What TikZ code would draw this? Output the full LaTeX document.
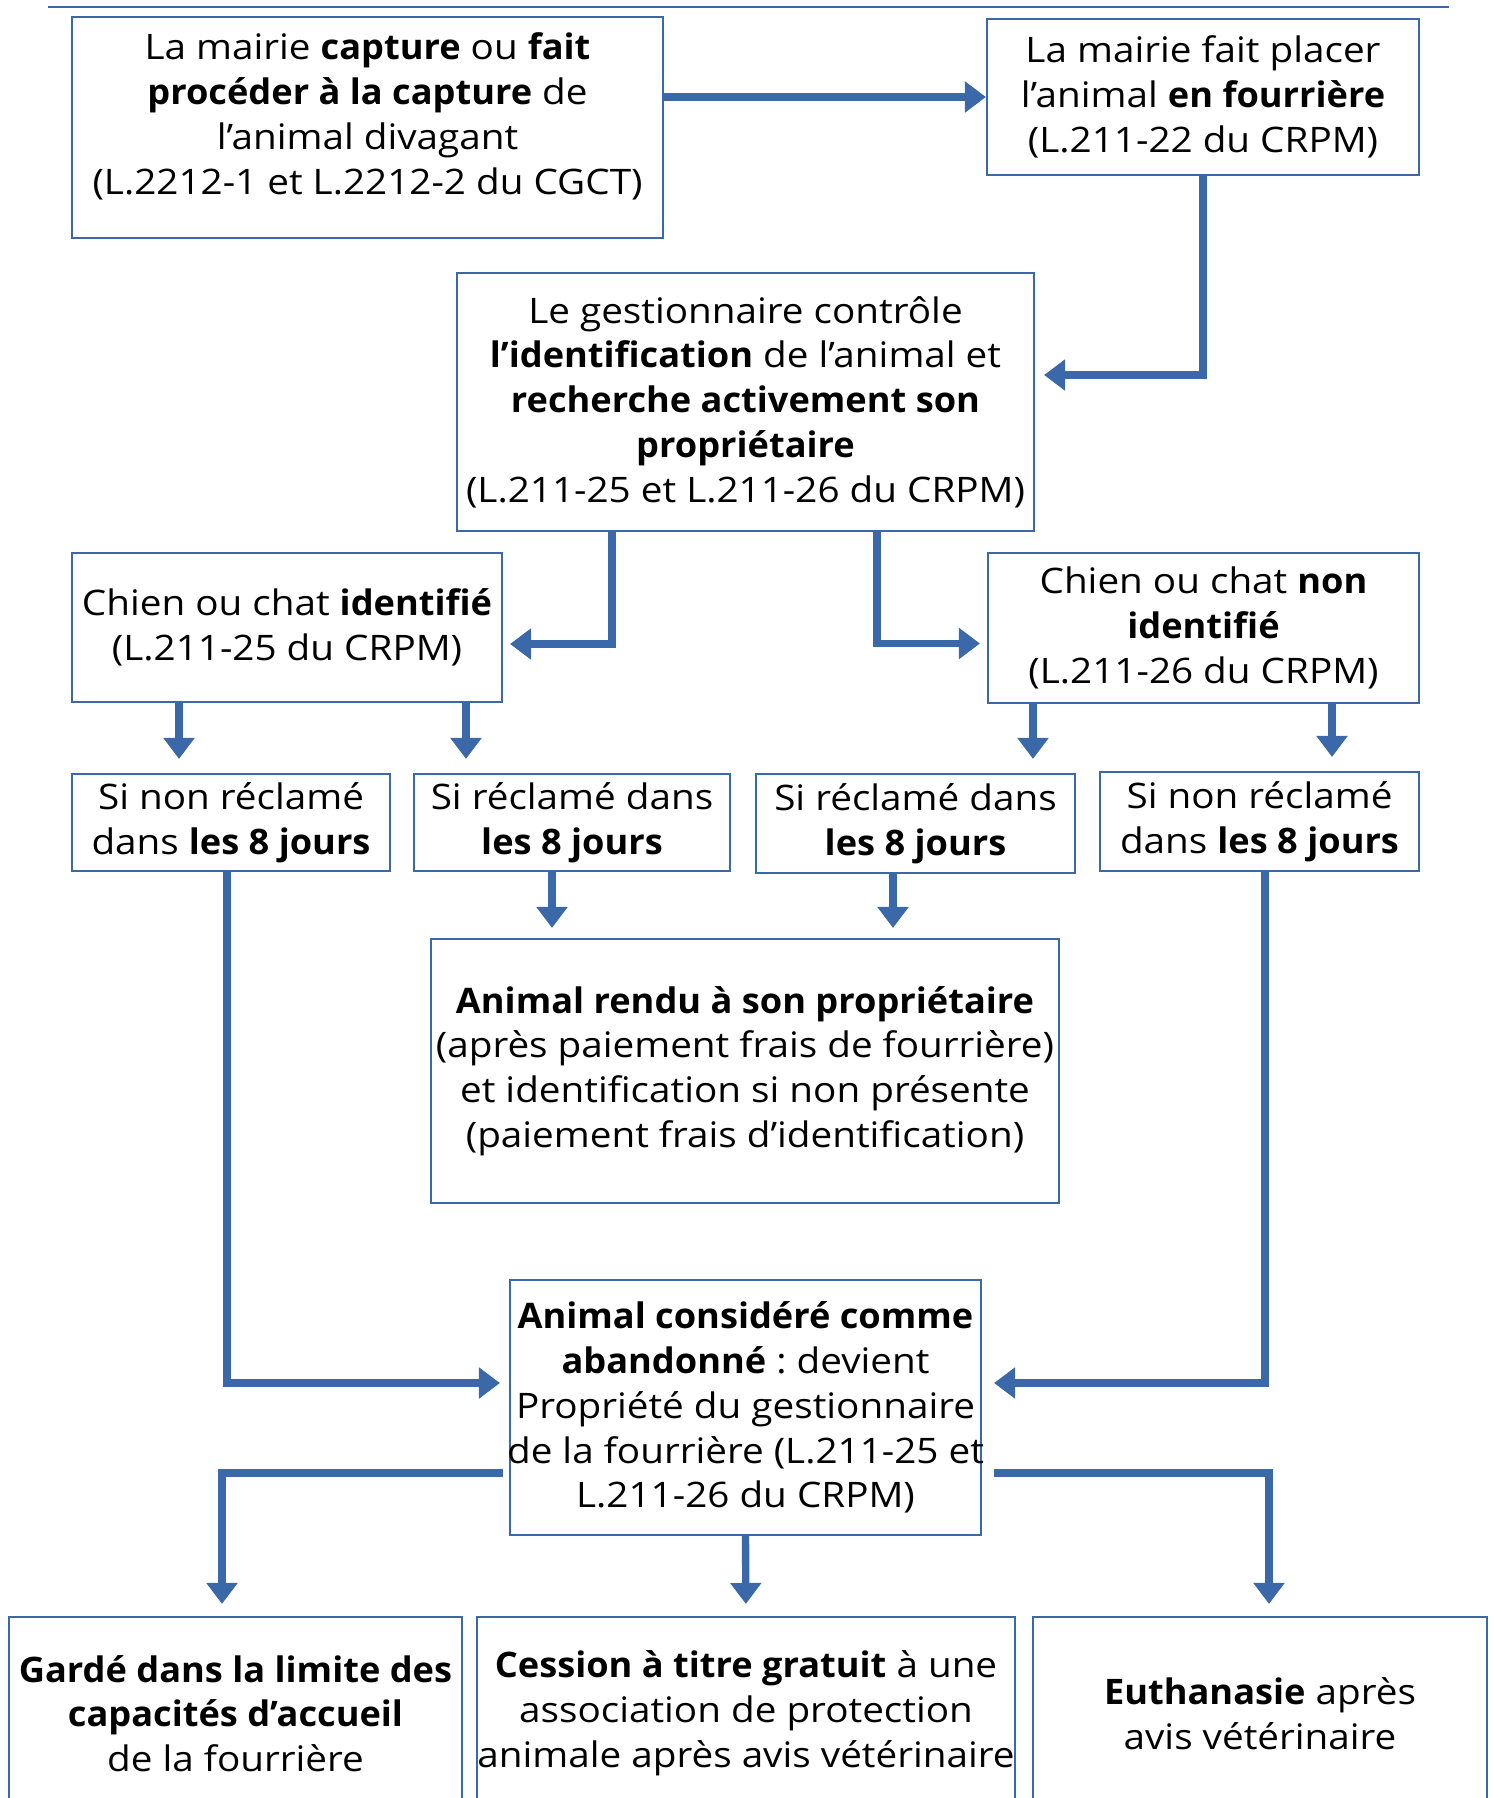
\documentclass[tikz,border=0pt]{standalone}
\usepackage{fontspec}
\setmainfont{Open Sans}[UprightFeatures={FakeStretch=1.1}, BoldFeatures={FakeStretch=1.03}]
\usetikzlibrary{arrows.meta}
\definecolor{fblue}{RGB}{58,104,168}
\frenchspacing

\begin{document}
\begin{tikzpicture}[every node/.style = {draw=fblue, line width=1.2pt, align=center, inner sep=0pt,
        font=\fontsize{20}{25.5}\selectfont},
    arr/.style = {draw=fblue, line width=4.2pt, -{Triangle[length=0.42cm,width=0.6cm]}}]
    \useasboundingbox (0,0) rectangle (29.88,-35.96);
    \draw[fblue, line width=1.5pt] (0.96,-0.14) -- (28.98,-0.14);

    \node (capture) [minimum width=11.82cm, minimum height=4.42cm, text depth=0.55cm] at (7.35,-2.55)
        {La mairie \textbf{capture} ou \textbf{fait}\\ \textbf{procéder à la capture} de\\ l’animal divagant\\ (L.2212-1 et L.2212-2 du CGCT)};
    \node (fourriere) [minimum width=8.64cm, minimum height=3.12cm] at (24.06,-1.94)
        {La mairie fait placer\\ l’animal \textbf{en fourrière}\\ (L.211-22 du CRPM)};
    \node (gestion) [minimum width=11.54cm, minimum height=5.16cm] at (14.91,-8.04)
        {Le gestionnaire contrôle\\ \textbf{l’identification} de l’animal et\\ \textbf{recherche activement son}\\ \textbf{propriétaire}\\ (L.211-25 et L.211-26 du CRPM)};
    \node (ident) [minimum width=8.6cm, minimum height=2.98cm] at (5.74,-12.55)
        {Chien ou chat \textbf{identifié}\\ (L.211-25 du CRPM)};
    \node (nonident) [minimum width=8.62cm, minimum height=3cm] at (24.07,-12.56)
        {Chien ou chat \textbf{non}\\ \textbf{identifié}\\ (L.211-26 du CRPM)};
    \node (nonrecl1) [minimum width=6.36cm, minimum height=1.94cm] at (4.62,-16.45)
        {Si non réclamé\\ dans \textbf{les 8 jours}};
    \node (recl1) [minimum width=6.32cm, minimum height=1.94cm] at (11.44,-16.45)
        {Si réclamé dans\\ \textbf{les 8 jours}};
    \node (recl2) [minimum width=6.38cm, minimum height=1.98cm] at (18.31,-16.47)
        {Si réclamé dans\\ \textbf{les 8 jours}};
    \node (nonrecl2) [minimum width=6.38cm, minimum height=1.98cm] at (25.19,-16.43)
        {Si non réclamé\\ dans \textbf{les 8 jours}};
    \node (rendu) [minimum width=12.56cm, minimum height=5.28cm] at (14.9,-21.42)
        {\textbf{Animal rendu à son propriétaire}\\ (après paiement frais de fourrière)\\ et identification si non présente\\ (paiement frais d’identification)};
    \node (abandon) [minimum width=9.42cm, minimum height=5.1cm] at (14.91,-28.15)
        {\makebox[9.3cm]{\textbf{Animal considéré comme}}\\ \textbf{abandonné} : devient\\ Propriété du gestionnaire\\ \makebox[9.3cm]{de la fourrière (L.211-25 et}\\ L.211-26 du CRPM)};
    \node (garde) [minimum width=9.06cm, minimum height=3.86cm] at (4.71,-34.27)
        {\textbf{Gardé dans la limite des}\\ \textbf{capacités d’accueil}\\ de la fourrière};
    \node (cession) [minimum width=10.76cm, minimum height=3.86cm] at (14.92,-34.27)
        {\textbf{Cession à titre gratuit} à une\\ association de protection\\ animale après avis vétérinaire};
    \node (euthan) [minimum width=9.08cm, minimum height=3.86cm] at (25.2,-34.27)
        {\textbf{Euthanasie} après\\ avis vétérinaire};

    % connecteurs
    \draw[arr] (capture.east |- fourriere.west) -- (fourriere.west);
    \draw[arr, shorten >=0.18cm] (fourriere.south) |- ([yshift=0.54cm]gestion.east);
    \draw[arr, shorten >=0.14cm] ([xshift=-2.67cm]gestion.south) |- ([yshift=-0.33cm]ident.east);
    \draw[arr, shorten >=0.14cm] ([xshift=2.63cm]gestion.south) |- ([yshift=-0.31cm]nonident.west);
    \draw[arr, shorten >=0.28cm] ([xshift=-2.16cm]ident.south) -- ([xshift=-2.16cm]ident.south |- nonrecl1.north);
    \draw[arr, shorten >=0.28cm] ([xshift=3.58cm]ident.south) -- ([xshift=3.58cm]ident.south |- recl1.north);
    \draw[arr, shorten >=0.28cm] ([xshift=-3.41cm]nonident.south) -- ([xshift=-3.41cm]nonident.south |- recl2.north);
    \draw[arr, shorten >=0.28cm] ([xshift=2.57cm]nonident.south) -- ([xshift=2.57cm]nonident.south |- nonrecl2.north);
    \draw[arr, shorten >=0.2cm] ([xshift=-0.4cm]recl1.south) -- ([xshift=-0.4cm]recl1.south |- rendu.north);
    \draw[arr, shorten >=0.2cm] ([xshift=-0.45cm]recl2.south) -- ([xshift=-0.45cm]recl2.south |- rendu.north);
    \draw[arr, shorten >=0.18cm] ([xshift=-0.08cm]nonrecl1.south) |- ([yshift=0.49cm]abandon.west);
    \draw[arr, shorten >=0.24cm] ([xshift=0.11cm]nonrecl2.south) |- ([yshift=0.49cm]abandon.east);
    \draw[arr, shorten >=0.24cm] ([xshift=-0.12cm,yshift=-1.31cm]abandon.west) -| ([xshift=-0.27cm]garde.north);
    \draw[arr, shorten >=0.24cm] (abandon.south) -- (cession.north);
    \draw[arr, shorten >=0.24cm] ([xshift=0.24cm,yshift=-1.31cm]abandon.east) -| ([xshift=0.18cm]euthan.north);
\end{tikzpicture}
\end{document}
